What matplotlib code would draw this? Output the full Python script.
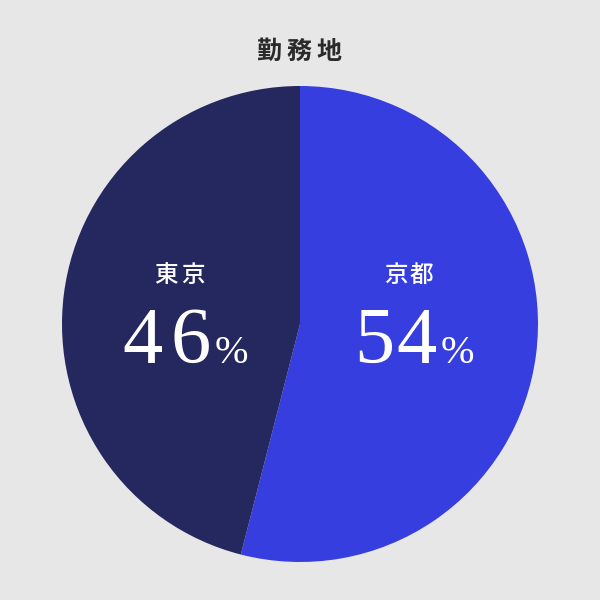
import matplotlib
matplotlib.use("Agg")
import matplotlib.pyplot as plt

title = "勤務地"
categories = ["京都", "東京"]
values = [54, 46]
colors = ["#363ee0", "#25275f"]

BG = "#e7e7e7"
W = H = 600
cx, cy, R = 300, 324, 238

fig = plt.figure(figsize=(6, 6), dpi=100, facecolor=BG)
ax = fig.add_axes([(cx - R) / W, (H - cy - R) / H, 2 * R / W, 2 * R / H])
ax.set_facecolor(BG)
ax.pie(values, colors=colors, startangle=90, counterclock=False, radius=1,
       wedgeprops=dict(linewidth=0))
ax.set_xlim(-1, 1)
ax.set_ylim(-1, 1)
ax.set_aspect("equal")
ax.axis("off")

jp = ["Noto Sans CJK JP", "DejaVu Sans"]
serif = "Liberation Serif"


def px(x, y):
    return (x - cx) / R, (cy - y) / R


def spaced(s, x0, step, y, **kw):
    """draw string s char by char, centres starting at pixel x0 with step"""
    for i, ch in enumerate(s):
        x, yy = px(x0 + i * step, y)
        ax.text(x, yy, ch, ha="center", va="center", **kw)


# title
spaced(title, 269, 30, 52, fontsize=18, fontweight="bold", family=jp,
       color="#2a2a2a", clip_on=False)

# label layout (pixel anchors)
layout = {
    "東京": dict(name_x=166, name_step=27, digit_x=(142, 191), pct_x=231),
    "京都": dict(name_x=396, name_step=25, digit_x=(374, 416), pct_x=457),
}
name_y = 275
base_y = 363

for cat, val in zip(categories, values):
    L = layout[cat]
    spaced(cat, L["name_x"], L["name_step"], name_y, fontsize=17,
           fontweight="medium", family=jp, color="white")
    for ch, dxp in zip(str(val), L["digit_x"]):
        x, y = px(dxp, base_y)
        ax.text(x, y, ch, ha="center", va="baseline", fontsize=58,
                family=serif, color="white")
    x, y = px(L["pct_x"], base_y)
    ax.text(x, y, "%", ha="center", va="baseline", fontsize=29,
            family=serif, color="white")

fig.savefig("out.png", dpi=100, facecolor=BG)
